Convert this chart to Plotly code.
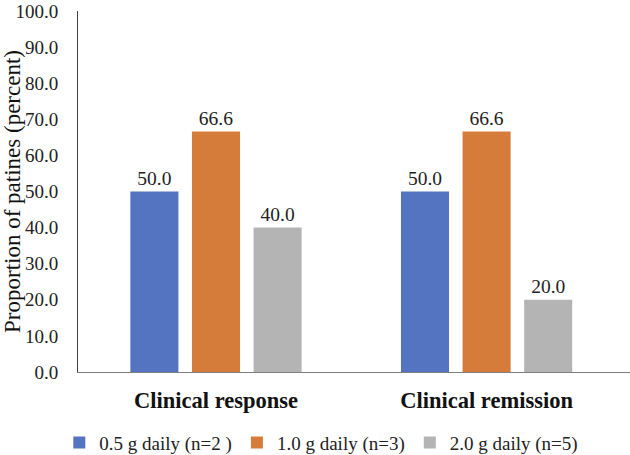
import plotly.graph_objects as go

categories = ["Clinical response", "Clinical remission"]
series_names = ["0.5 g daily (n=2 )", "1.0 g daily (n=3)", "2.0 g daily (n=5)"]
series_values = [
    [50.0, 50.0],
    [66.6, 66.6],
    [40.0, 20.0],
]
colors = ["#5473C0", "#D57C3A", "#B4B4B4"]
y_ticks = [0, 10, 20, 30, 40, 50, 60, 70, 80, 90, 100]

FONT = "Liberation Serif, Times New Roman, serif"

fig = go.Figure()
for name, vals, col in zip(series_names, series_values, colors):
    fig.add_trace(go.Bar(
        x=categories, y=vals, name=name,
        marker=dict(color=col, line=dict(width=0)),
        text=[f"{v:.1f}" for v in vals],
        textposition="outside",
        cliponaxis=False,
        textfont=dict(family=FONT, size=19.5, color="#222222"),
    ))

fig.update_layout(
    width=630, height=455,
    margin=dict(l=78, r=0, t=11, b=83, autoexpand=False),
    paper_bgcolor="white", plot_bgcolor="white",
    barmode="group", bargap=0.317, bargroupgap=0.22,
    font=dict(family=FONT, size=19, color="#222222"),
    showlegend=True,
    legend=dict(orientation="h", x=0.51, xref="container", xanchor="center",
                y=0.027, yref="container", yanchor="middle",
                font=dict(family=FONT, size=19, color="#222222"),
                itemwidth=30, traceorder="normal"),
    xaxis=dict(range=[-0.51, 1.53],
               showline=True, linecolor="#808080", linewidth=1,
               ticks="outside", ticklen=8, tickcolor="rgba(0,0,0,0)",
               tickfont=dict(family=FONT, size=22.5, color="#111111", weight="bold"),
               showgrid=False, automargin=False),
    yaxis=dict(range=[0, 100], tickvals=y_ticks,
               ticktext=[f"{v:.1f}" for v in y_ticks],
               showline=True, linecolor="#404040", linewidth=1,
               ticks="outside", ticklen=15, tickcolor="rgba(0,0,0,0)",
               showgrid=False, zeroline=False, automargin=False,
               tickfont=dict(family=FONT, size=19, color="#222222"),
               title=dict(text="Proportion of patines (percent)", standoff=0,
                          font=dict(family=FONT, size=23, color="#111111"))),
)

fig.write_html("out.html", config={"displayModeBar": False},
               post_script="document.body.style.margin='0';")
